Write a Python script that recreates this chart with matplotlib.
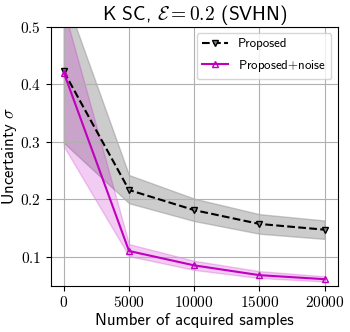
import numpy as np
import matplotlib.pyplot as plt

plt.rcParams['mathtext.fontset'] = 'cm'
plt.rcParams['font.family'] = ['cmss10', 'DejaVu Sans']
plt.rcParams['axes.unicode_minus'] = False

samples = [0, 5000, 10000, 15000, 20000]
prop_mean = [0.422, 0.216, 0.181, 0.157, 0.147]
prop_low = [0.298, 0.193, 0.162, 0.140, 0.131]
prop_high = [0.558, 0.242, 0.201, 0.174, 0.163]
noise_mean = [0.420, 0.110, 0.085, 0.068, 0.061]
noise_low = [0.292, 0.101, 0.077, 0.063, 0.057]
noise_high = [0.531, 0.122, 0.093, 0.075, 0.066]

fig, ax = plt.subplots(figsize=(3.5, 3.32), dpi=100)

ax.fill_between(samples, prop_low, prop_high, color='gray', alpha=0.4)
ax.fill_between(samples, noise_low, noise_high, color='m', alpha=0.2)
ax.plot(samples, prop_mean, 'k--v', markersize=5, markerfacecolor='gray',
        label='Proposed')
ax.plot(samples, noise_mean, '-^', color='m', markersize=5,
        markerfacecolor='none', label='Proposed$+$noise')

ax.set_xlim(-1000, 21000)
ax.set_ylim(0.05, 0.5)
ax.set_xticks(samples)
ax.set_xticklabels(['$%d$' % s for s in samples])
yt = [0.1, 0.2, 0.3, 0.4, 0.5]
ax.set_yticks(yt)
ax.set_yticklabels(['$%.1f$' % v for v in yt])
ax.tick_params(labelsize=11)
ax.grid(True)
ax.set_xlabel('Number of acquired samples', fontsize=12, labelpad=2)
ax.set_ylabel(r'Uncertainty $\sigma$', fontsize=12, labelpad=1)
ax.set_title(r'K SC, $\mathcal{E}=0.2$ (SVHN)', fontsize=14, pad=3)
ax.legend(fontsize=9.3, loc='upper right', labelspacing=0.6)

plt.subplots_adjust(left=0.145, right=0.965, top=0.92, bottom=0.14)
plt.savefig('out.png')
